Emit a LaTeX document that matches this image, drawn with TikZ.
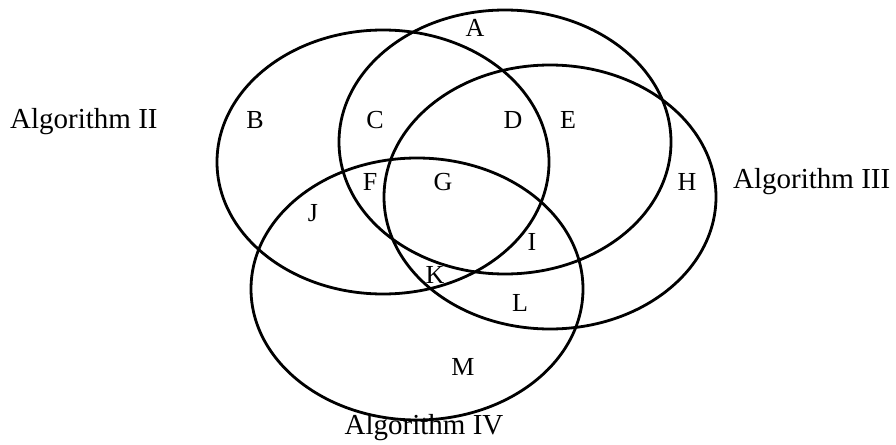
\documentclass[tikz,border=0pt]{standalone}
\usepackage{fontspec}
\setmainfont{Liberation Serif}
\usepackage{tikz}
\usetikzlibrary{positioning}

\begin{document}
\begin{tikzpicture}[
    x=1pt, y=-1pt,
    set/.style={line width=2.8pt},
    region/.style={font=\fontsize{26}{30}\selectfont, inner sep=0pt},
    setname/.style={font=\fontsize{29}{33}\selectfont, inner sep=0pt},
]
    \useasboundingbox (0,0) rectangle (896,444);

    % Sets
    \draw[set] (505,142) ellipse [x radius=166, y radius=132];
    \draw[set] (383,162) ellipse [x radius=166, y radius=132];
    \draw[set] (550,197) ellipse [x radius=166, y radius=132];
    \draw[set] (417,289) ellipse [x radius=166, y radius=131];

    % Regions
    \node[region] (A) at (475,28) {A};
    \node[region] (B) at (255,120) {B};
    \node[region] (C) at (375,120) {C};
    \node[region] (D) at (513,120) {D};
    \node[region] (E) at (568,120) {E};
    \node[region] (F) at (370,182) {F};
    \node[region] (G) at (443,182) {G};
    \node[region] (H) at (687,182) {H};
    \node[region] (J) at (313,213) {J};
    \node[region] (I) at (532,242) {I};
    \node[region] (K) at (435,275) {K};
    \node[region] (L) at (520,303) {L};
    \node[region] (M) at (463,367) {M};

    % Set names
    \node[setname, anchor=west] (alg2) at (10,122) {Algorithm II};
    \node[setname, anchor=west] (alg3) at (733,182) {Algorithm III};
    \node[setname] (alg4) at (424,428) {Algorithm IV};
\end{tikzpicture}
\end{document}
